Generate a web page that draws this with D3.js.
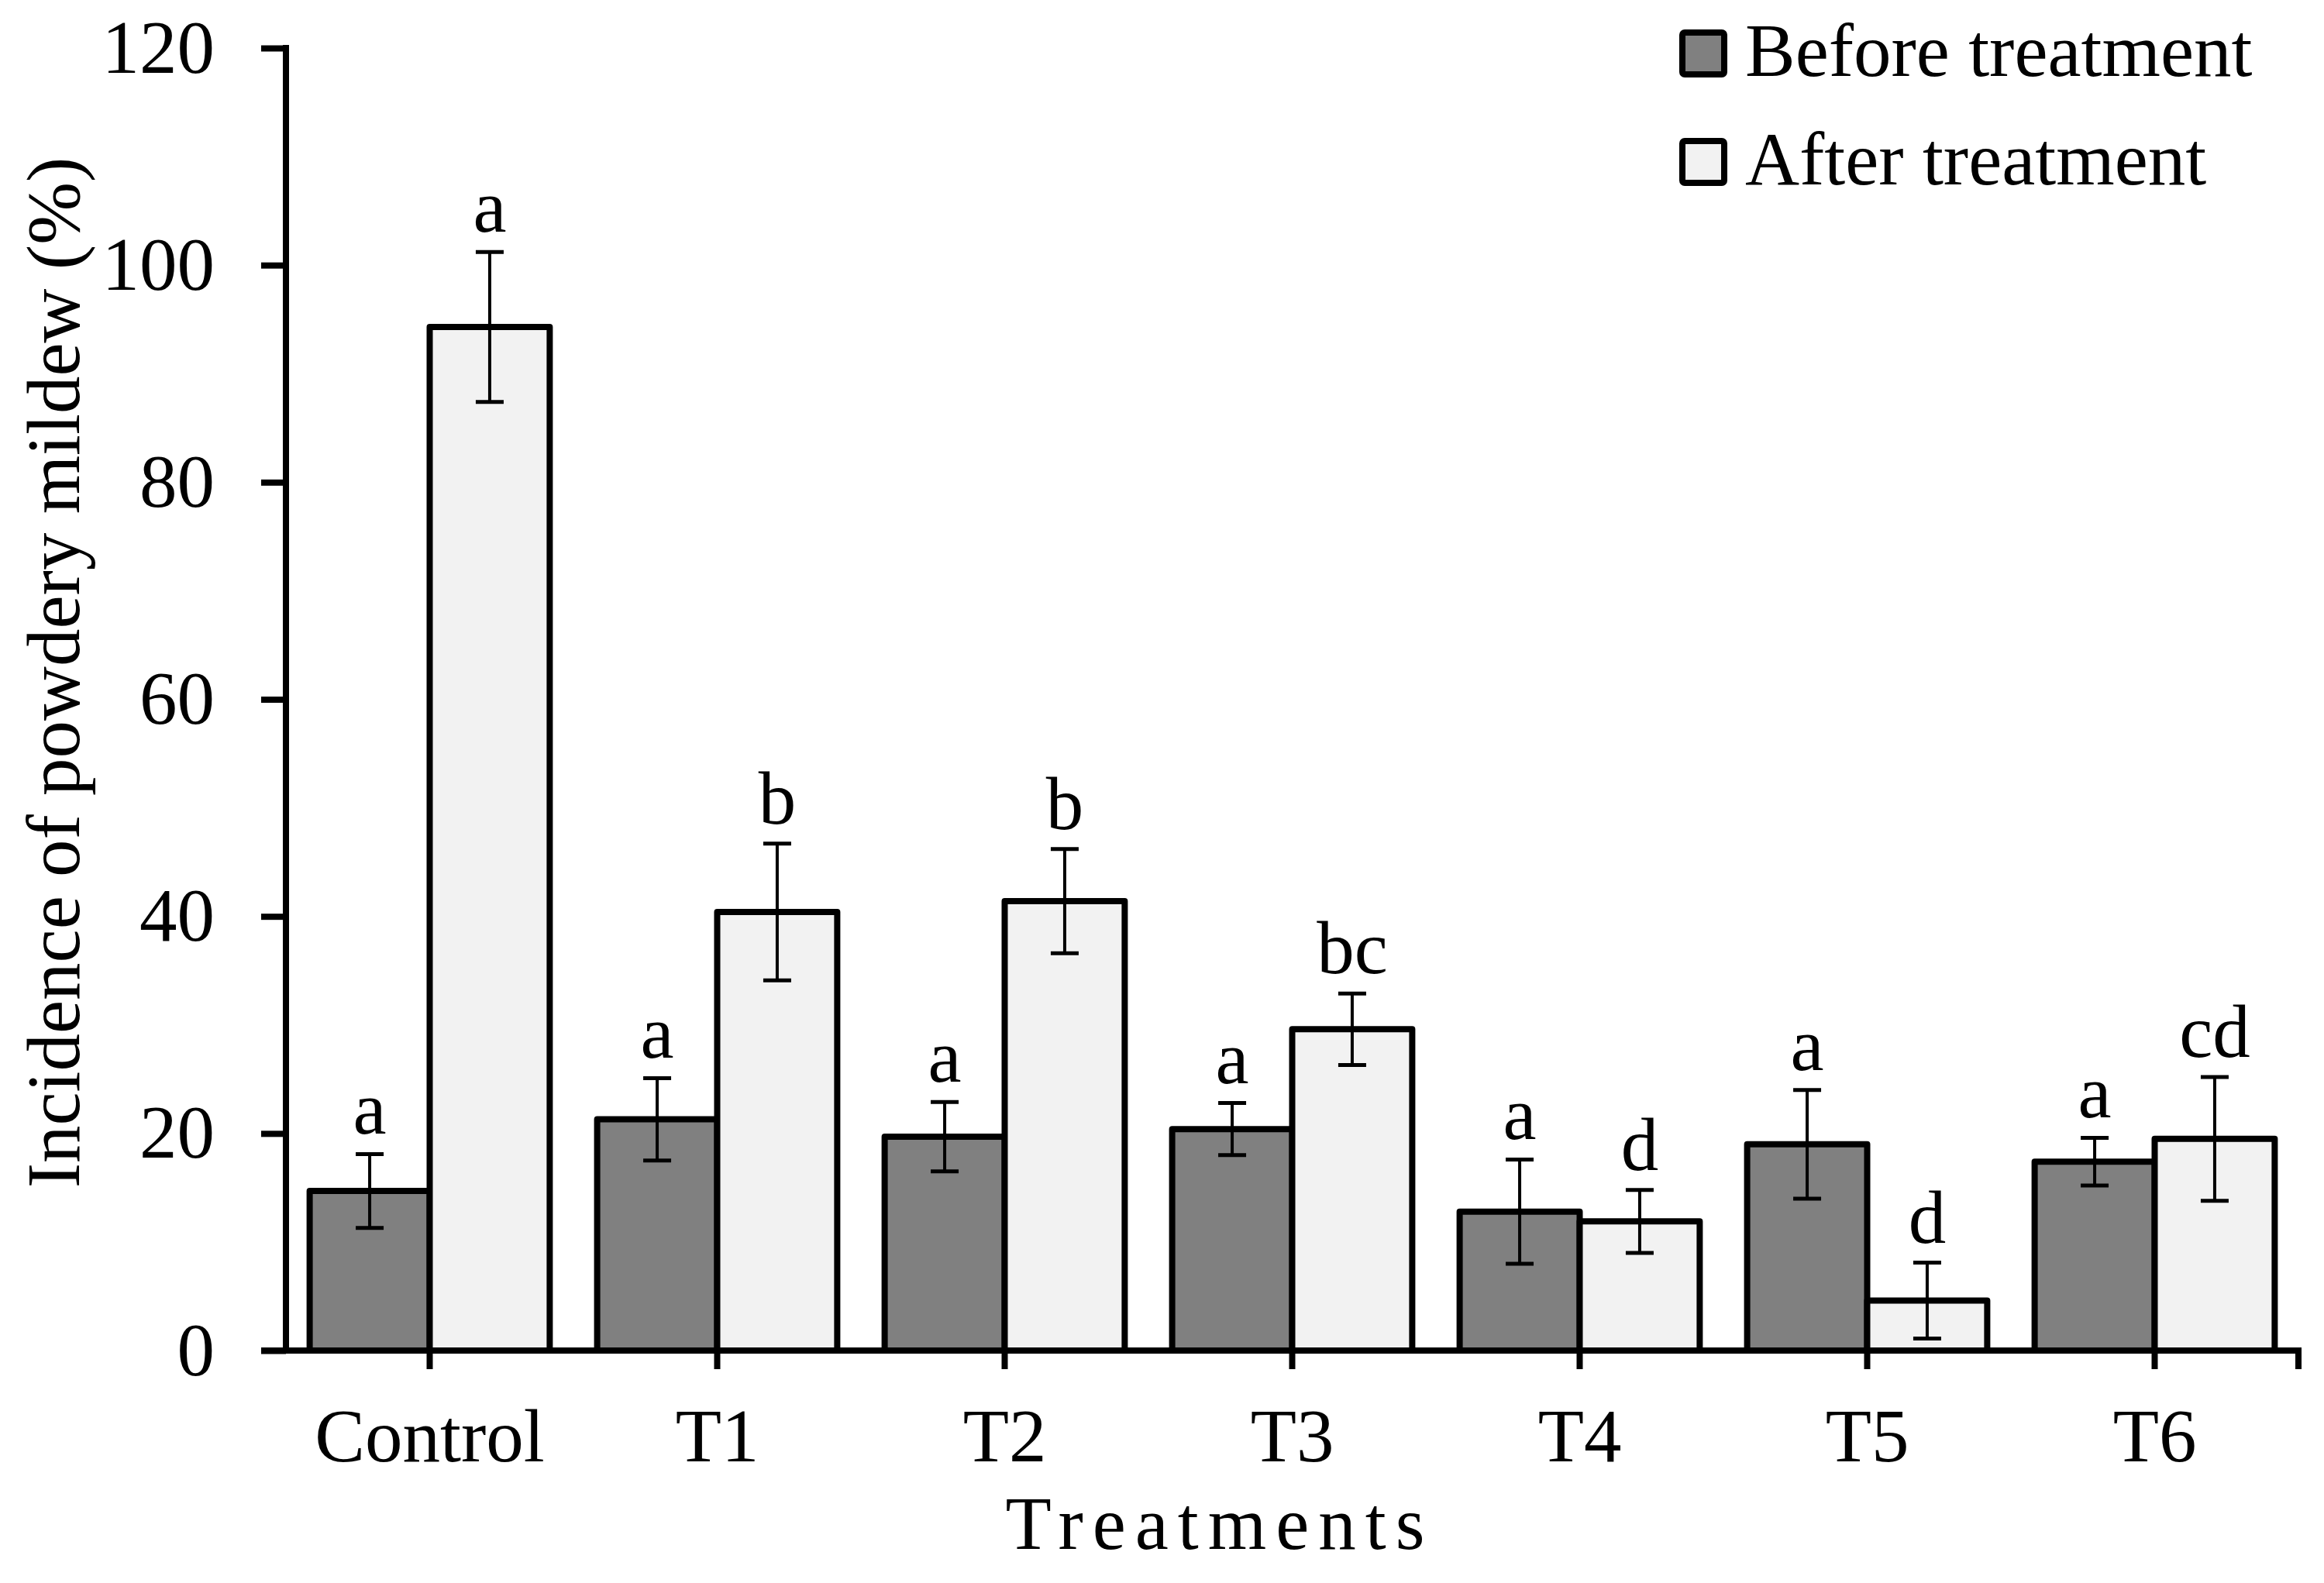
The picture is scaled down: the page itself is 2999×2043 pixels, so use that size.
<!DOCTYPE html>
<html>
<head>
<meta charset="utf-8">
<script src="https://cdn.jsdelivr.net/npm/d3@7/dist/d3.min.js"></script>
<style>
  html, body { margin: 0; padding: 0; background: #ffffff; }
  svg { display: block; }
  text { font-family: "Liberation Serif", "DejaVu Serif", serif; fill: #000; }
</style>
</head>
<body>
<svg id="chart" width="2999" height="2043"></svg>
<script>
// ---- data ----
const categories = ["Control", "T1", "T2", "T3", "T4", "T5", "T6"];
const seriesNames = ["Before treatment", "After treatment"];
const beforeValues = [14.7, 21.3, 19.7, 20.4, 12.8, 19.0, 17.4];
const beforeErrors = [3.4, 3.8, 3.2, 2.4, 4.8, 5.0, 2.2];
const afterValues = [94.3, 40.4, 41.4, 29.6, 11.9, 4.6, 19.5];
const afterErrors = [6.9, 6.3, 4.8, 3.3, 2.9, 3.5, 5.7];
const beforeLetters = ["a", "a", "a", "a", "a", "a", "a"];
const afterLetters = ["a", "b", "b", "bc", "d", "d", "cd"];
const yTickValues = [0, 20, 40, 60, 80, 100, 120];
const yTitle = "Incidence of powdery mildew (%)";
const xTitle = "Treatments";

// ---- layout ----
const W = 2999, H = 2043;
const plot = { left: 369, right: 2966, top: 62, bottom: 1743 };
const fontSize = 97;
const colors = ["#808080", "#f2f2f2"];
const svg = d3.select("#chart");

const x0 = d3.scaleBand()
  .domain(categories)
  .range([plot.left, plot.right])
  .paddingInner(0.165)
  .paddingOuter(0.0825);
const x1 = d3.scaleBand()
  .domain(seriesNames)
  .range([0, x0.bandwidth()])
  .padding(0);
const y = d3.scaleLinear().domain([0, 120]).range([plot.bottom, plot.top]);

const groups = categories.map((c, i) => ({
  cat: c,
  items: [
    { s: seriesNames[0], v: beforeValues[i], e: beforeErrors[i], l: beforeLetters[i], idx: 0 },
    { s: seriesNames[1], v: afterValues[i], e: afterErrors[i], l: afterLetters[i], idx: 1 }
  ]
}));

// bars
const g = svg.append("g");
const grp = g.selectAll("g.grp").data(groups).join("g")
  .attr("class", "grp")
  .attr("transform", d => `translate(${x0(d.cat)},0)`);

grp.selectAll("rect").data(d => d.items).join("rect")
  .attr("x", d => x1(d.s))
  .attr("y", d => y(d.v))
  .attr("width", x1.bandwidth())
  .attr("height", d => y(0) - y(d.v))
  .attr("fill", d => colors[d.idx])
  .attr("stroke", "#000")
  .attr("stroke-width", 8)
  .attr("stroke-linejoin", "round");

// error bars
const capW = 36;
const eb = grp.selectAll("g.err").data(d => d.items).join("g").attr("class", "err");
eb.append("line")
  .attr("x1", d => x1(d.s) + x1.bandwidth() / 2)
  .attr("x2", d => x1(d.s) + x1.bandwidth() / 2)
  .attr("y1", d => y(d.v + d.e))
  .attr("y2", d => y(Math.max(0, d.v - d.e)))
  .attr("stroke", "#000").attr("stroke-width", 4);
eb.append("line")
  .attr("x1", d => x1(d.s) + x1.bandwidth() / 2 - capW / 2)
  .attr("x2", d => x1(d.s) + x1.bandwidth() / 2 + capW / 2)
  .attr("y1", d => y(d.v + d.e))
  .attr("y2", d => y(d.v + d.e))
  .attr("stroke", "#000").attr("stroke-width", 5);
eb.append("line")
  .attr("x1", d => x1(d.s) + x1.bandwidth() / 2 - capW / 2)
  .attr("x2", d => x1(d.s) + x1.bandwidth() / 2 + capW / 2)
  .attr("y1", d => y(Math.max(0, d.v - d.e)))
  .attr("y2", d => y(Math.max(0, d.v - d.e)))
  .attr("stroke", "#000").attr("stroke-width", 5);

// significance letters
grp.selectAll("text.sig").data(d => d.items).join("text")
  .attr("class", "sig")
  .attr("x", d => x1(d.s) + x1.bandwidth() / 2)
  .attr("y", d => y(d.v + d.e) - 26)
  .attr("text-anchor", "middle")
  .attr("font-size", fontSize)
  .text(d => d.l);

// y axis
const yAxis = d3.axisLeft(y).tickValues(yTickValues).tickSize(32).tickSizeOuter(0).tickPadding(60);
const yg = svg.append("g").attr("transform", `translate(${plot.left},0)`).call(yAxis);
yg.select(".domain").attr("stroke", "#000").attr("stroke-width", 8)
  .attr("d", `M0,${plot.top - 4}V${plot.bottom}`);
yg.selectAll(".tick line").attr("stroke", "#000").attr("stroke-width", 8);
yg.selectAll(".tick text").attr("font-size", fontSize)
  .attr("font-family", "Liberation Serif, DejaVu Serif, serif").attr("fill", "#000");

// x axis
const centers = d3.scalePoint(); // not used for marks
const xAxis = d3.axisBottom(x0).tickSize(24).tickSizeOuter(24).tickPadding(50);
const xg = svg.append("g").attr("transform", `translate(0,${plot.bottom})`).call(xAxis);
xg.select(".domain").attr("stroke", "#000").attr("stroke-width", 8)
  .attr("d", `M${plot.left - 32},0H${plot.right}V24`);
xg.selectAll(".tick line").attr("stroke", "#000").attr("stroke-width", 8);
xg.selectAll(".tick text").attr("font-size", fontSize)
  .attr("font-family", "Liberation Serif, DejaVu Serif, serif").attr("fill", "#000")
  .attr("dy", "0.71em");

// axis titles
svg.append("text")
  .attr("transform", `translate(102,868) rotate(-90)`)
  .attr("text-anchor", "middle")
  .attr("font-size", fontSize)
  .text(yTitle);

svg.append("text")
  .attr("x", 1574)
  .attr("y", 1999)
  .attr("text-anchor", "middle")
  .attr("font-size", fontSize)
  .attr("letter-spacing", 12)
  .text(xTitle);

// legend
const legend = svg.append("g").attr("transform", "translate(2167,38)");
const li = legend.selectAll("g").data(seriesNames).join("g")
  .attr("transform", (d, i) => `translate(0,${i * 140})`);
li.append("rect")
  .attr("x", 4).attr("y", 4).attr("width", 54).attr("height", 54)
  .attr("rx", 3)
  .attr("fill", (d, i) => colors[i])
  .attr("stroke", "#000").attr("stroke-width", 8);
li.append("text")
  .attr("x", 85).attr("y", 60)
  .attr("font-size", fontSize)
  .text(d => d);
</script>
</body>
</html>
